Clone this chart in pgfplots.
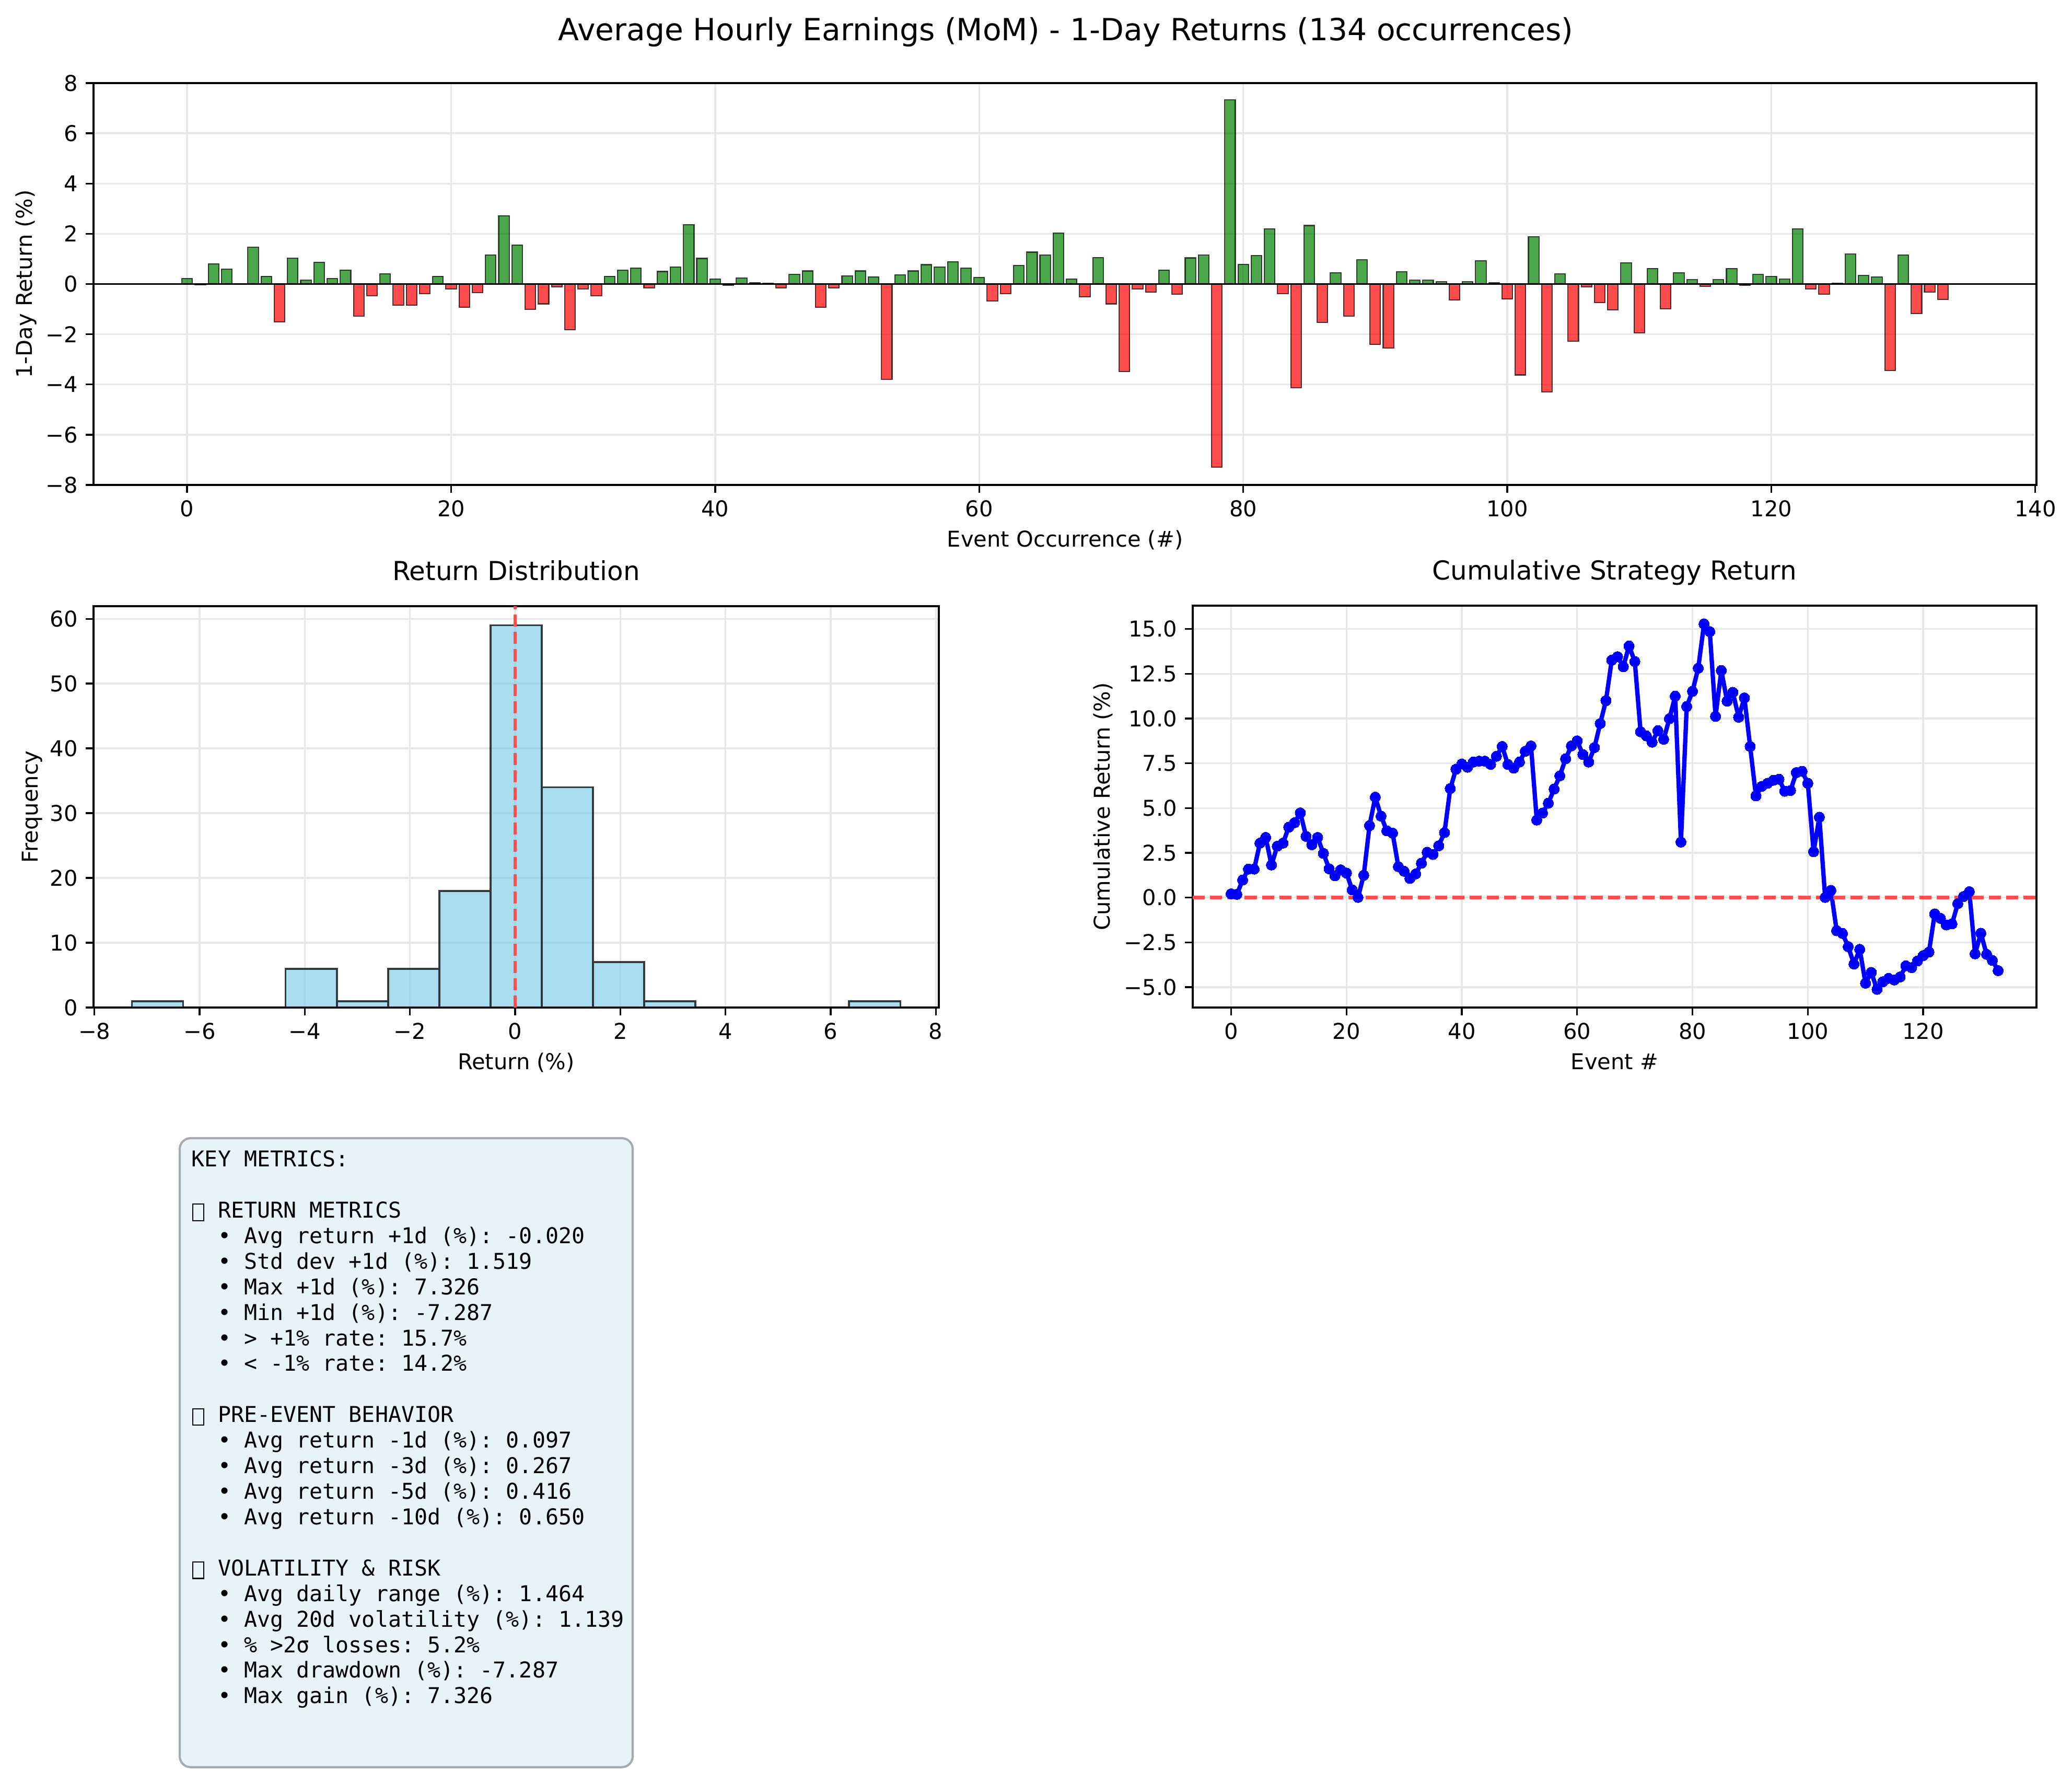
\documentclass[border=0pt]{standalone}
\usepackage{fontspec}
\setmainfont{DejaVu Sans}
\setmonofont{DejaVu Sans Mono}
\usepackage{pgfplots}
\pgfplotsset{compat=1.18}
\usepackage{pgfplotstable}

\definecolor{gridc}{RGB}{231,231,231}
\definecolor{mplgreen}{RGB}{0,128,0}
\definecolor{mplred}{RGB}{255,0,0}
\definecolor{skyb}{RGB}{135,206,235}
\definecolor{dashred}{RGB}{255,76,76}
\definecolor{boxface}{RGB}{230,243,247}
\definecolor{boxedge}{RGB}{165,171,174}

\newcommand\tofu{\makebox[6.02pt][c]{\raisebox{-1pt}{\setlength\fboxsep{0pt}\setlength\fboxrule{0.5pt}\fbox{\rule{0pt}{7pt}\hspace{4.4pt}}}}}
\newcommand\idt{\phantom{xx}}

% 1-day returns per event
\pgfplotstableread{
i r
0 0.22
1 -0.03
2 0.81
3 0.59
4 0.01
5 1.46
6 0.31
7 -1.51
8 1.03
9 0.15
10 0.87
11 0.22
12 0.56
13 -1.27
14 -0.46
15 0.41
16 -0.85
17 -0.85
18 -0.38
19 0.31
20 -0.20
21 -0.93
22 -0.34
23 1.16
24 2.72
25 1.56
26 -1.01
27 -0.79
28 -0.11
29 -1.82
30 -0.19
31 -0.46
32 0.31
33 0.55
34 0.64
35 -0.16
36 0.50
37 0.68
38 2.37
39 1.02
40 0.20
41 -0.05
42 0.24
43 0.06
44 0.04
45 -0.16
46 0.39
47 0.52
48 -0.93
49 -0.16
50 0.33
51 0.52
52 0.29
53 -3.79
54 0.36
55 0.52
56 0.77
57 0.68
58 0.89
59 0.63
60 0.27
61 -0.68
62 -0.38
63 0.74
64 1.27
65 1.16
66 2.03
67 0.20
68 -0.51
69 1.06
70 -0.79
71 -3.48
72 -0.20
73 -0.33
74 0.56
75 -0.40
76 1.04
77 1.15
78 -7.287
79 7.326
80 0.79
81 1.13
82 2.20
83 -0.38
84 -4.12
85 2.33
86 -1.53
87 0.45
88 -1.27
89 0.96
90 -2.41
91 -2.55
92 0.49
93 0.15
94 0.15
95 0.09
96 -0.64
97 0.09
98 0.93
99 0.06
100 -0.60
101 -3.62
102 1.88
103 -4.29
104 0.40
105 -2.27
106 -0.11
107 -0.74
108 -1.03
109 0.85
110 -1.94
111 0.62
112 -0.99
113 0.45
114 0.17
115 -0.09
116 0.17
117 0.62
118 -0.06
119 0.38
120 0.30
121 0.19
122 2.20
123 -0.20
124 -0.40
125 0.04
126 1.19
127 0.34
128 0.28
129 -3.44
130 1.16
131 -1.18
132 -0.32
133 -0.62
}\returns

% cumulative strategy return
\pgfplotstableread{
i c
0 0.21
1 0.18
2 0.98
3 1.59
4 1.59
5 3.04
6 3.36
7 1.82
8 2.87
9 3.04
10 3.93
11 4.18
12 4.73
13 3.42
14 2.95
15 3.36
16 2.47
17 1.61
18 1.22
19 1.55
20 1.37
21 0.43
22 0.01
23 1.25
24 4.02
25 5.61
26 4.55
27 3.73
28 3.60
29 1.73
30 1.47
31 1.07
32 1.32
33 1.92
34 2.53
35 2.41
36 2.89
37 3.63
38 6.09
39 7.17
40 7.46
41 7.28
42 7.57
43 7.62
44 7.62
45 7.44
46 7.89
47 8.44
48 7.43
49 7.23
50 7.57
51 8.17
52 8.47
53 4.33
54 4.72
55 5.27
56 6.06
57 6.80
58 7.75
59 8.47
60 8.75
61 7.99
62 7.57
63 8.38
64 9.72
65 11.00
66 13.26
67 13.45
68 12.89
69 14.05
70 13.18
71 9.26
72 9.03
73 8.68
74 9.32
75 8.84
76 9.99
77 11.25
78 3.10
79 10.67
80 11.52
81 12.81
82 15.28
83 14.85
84 10.12
85 12.68
86 10.97
87 11.46
88 10.07
89 11.15
90 8.44
91 5.68
92 6.21
93 6.38
94 6.55
95 6.61
96 5.94
97 5.98
98 6.98
99 7.05
100 6.38
101 2.56
102 4.49
103 0.01
104 0.40
105 -1.85
106 -2.00
107 -2.74
108 -3.71
109 -2.89
110 -4.78
111 -4.18
112 -5.12
113 -4.70
114 -4.51
115 -4.60
116 -4.43
117 -3.81
118 -3.91
119 -3.54
120 -3.24
121 -3.04
122 -0.91
123 -1.16
124 -1.53
125 -1.47
126 -0.34
127 0.06
128 0.33
129 -3.14
130 -1.99
131 -3.17
132 -3.51
133 -4.08
}\cumret

% histogram: left bin edge and count (last row closes the final bin)
\pgfplotstableread{
e n
-7.287 1
-6.313 0
-5.339 0
-4.365 6
-3.391 1
-2.416 6
-1.442 18
-0.468 59
0.506 34
1.480 7
2.454 1
3.428 0
4.403 0
5.377 0
6.351 1
7.326 1
}\hist

\pgfplotsset{mpl/.style={
  scale only axis,
  axis line style={line width=0.8pt},
  tick align=outside,
  major tick length=3.5pt,
  every tick/.style={black, line width=0.8pt},
  tick pos=left,
  grid=major,
  grid style={gridc, line width=0.8pt},
  every tick label/.append style={font=\fontsize{10}{12}\selectfont, inner sep=0pt},
  xticklabel shift=3.5pt,
  yticklabel shift=3.5pt,
  label style={font=\fontsize{10}{12}\selectfont},
  title style={font=\fontsize{12}{14}\selectfont, at={(0.5,1)}, anchor=base, yshift=6pt},
  xlabel style={at={(axis description cs:0.5,0)}, anchor=base, yshift=-28.5pt},
}}

\begin{document}
\begin{tikzpicture}
\useasboundingbox (0,0) rectangle (951.84pt,-813.12pt);

\node[font=\fontsize{14}{17}\selectfont, anchor=base] at (489.6pt,-18.5pt) {Average Hourly Earnings (MoM) - 1-Day Returns (134 occurrences)};

% top bar chart
\begin{axis}[mpl, at={(42.96pt,-38.16pt)}, anchor=north west,
  width=892.56pt, height=184.56pt,
  xmin=-7.09, xmax=140.09, ymin=-8, ymax=8,
  xtick={0,20,40,60,80,100,120,140},
  xticklabels={0,20,40,60,80,100,120,140},
  ytick={-8,-6,-4,-2,0,2,4,6,8},
  yticklabels={−8,−6,−4,−2,0,2,4,6,8},
  xlabel={Event Occurrence (\#)},
  ylabel={1-Day Return (\%)},
  ylabel style={at={(axis description cs:-0.03469,0.5)}, anchor=center}]
\addplot[ybar, bar width=0.8, bar shift=0pt, fill=mplgreen, fill opacity=0.7, draw=black, draw opacity=0.7, line width=0.5pt, restrict y to domain=0:100] table[x=i, y=r] {\returns};
\addplot[ybar, bar width=0.8, bar shift=0pt, fill=mplred, fill opacity=0.7, draw=black, draw opacity=0.7, line width=0.5pt, restrict y to domain=-100:0] table[x=i, y=r] {\returns};
\addplot[black, line width=0.9pt] coordinates {(-7.09,0) (140.09,0)};
\end{axis}

% histogram
\begin{axis}[mpl, at={(42.96pt,-278.4pt)}, anchor=north west,
  width=388.32pt, height=184.32pt,
  xmin=-8.017, xmax=8.057, ymin=0, ymax=61.95,
  xtick={-8,-6,-4,-2,0,2,4,6,8},
  xticklabels={−8,−6,−4,−2,0,2,4,6,8},
  ytick={0,10,20,30,40,50,60},
  yticklabels={0,10,20,30,40,50,60},
  title={Return Distribution},
  xlabel={Return (\%)},
  ylabel={Frequency},
  ylabel style={at={(axis description cs:-0.07226,0.5)}, anchor=center}]
\addplot[ybar interval, fill=skyb, fill opacity=0.7, draw=black, draw opacity=0.75, line width=0.9pt] table[x=e, y=n] {\hist};
\addplot[dashred, line width=1.5pt, dash pattern=on 5.55pt off 2.4pt] coordinates {(0,0) (0,61.95)};
\end{axis}

% cumulative
\begin{axis}[mpl, at={(547.92pt,-278.16pt)}, anchor=north west,
  width=387.6pt, height=184.56pt,
  xmin=-6.65, xmax=139.65, ymin=-6.14, ymax=16.30,
  xtick={0,20,40,60,80,100,120},
  xticklabels={0,20,40,60,80,100,120},
  ytick={-5,-2.5,0,2.5,5,7.5,10,12.5,15},
  yticklabels={−5.0,−2.5,0.0,2.5,5.0,7.5,10.0,12.5,15.0},
  title={Cumulative Strategy Return},
  xlabel={Event \#},
  ylabel={Cumulative Return (\%)},
  ylabel style={at={(axis description cs:-0.1063,0.5)}, anchor=center}]
\addplot[blue, line width=2pt, line join=round, line cap=round, mark=*, mark size=2.4pt, mark options={solid, fill=blue, draw=blue, line width=0pt}] table[x=i, y=c] {\cumret};
\addplot[dashred, line width=1.5pt, dash pattern=on 5.55pt off 2.4pt] coordinates {(-6.65,0) (139.65,0)};
\end{axis}

% metrics text box
\draw[boxedge, fill=boxface, rounded corners=5pt, line width=1pt] (82.56pt,-522.72pt) rectangle (290.64pt,-811.6pt);
\node[anchor=north west, inner sep=0pt, align=left, font=\ttfamily\fontsize{10}{11.74}\selectfont] at (87.84pt,-528.2pt) {%
KEY METRICS:\\
\mbox{}\\
\tofu\ RETURN METRICS\\
\idt• Avg return +1d (\%): -0.020\\
\idt• Std dev +1d (\%): 1.519\\
\idt• Max +1d (\%): 7.326\\
\idt• Min +1d (\%): -7.287\\
\idt• > +1\% rate: 15.7\%\\
\idt• < -1\% rate: 14.2\%\\
\mbox{}\\
\tofu\ PRE-EVENT BEHAVIOR\\
\idt• Avg return -1d (\%): 0.097\\
\idt• Avg return -3d (\%): 0.267\\
\idt• Avg return -5d (\%): 0.416\\
\idt• Avg return -10d (\%): 0.650\\
\mbox{}\\
\tofu\ VOLATILITY \& RISK\\
\idt• Avg daily range (\%): 1.464\\
\idt• Avg 20d volatility (\%): 1.139\\
\idt• \% >2σ losses: 5.2\%\\
\idt• Max drawdown (\%): -7.287\\
\idt• Max gain (\%): 7.326};
\end{tikzpicture}
\end{document}
